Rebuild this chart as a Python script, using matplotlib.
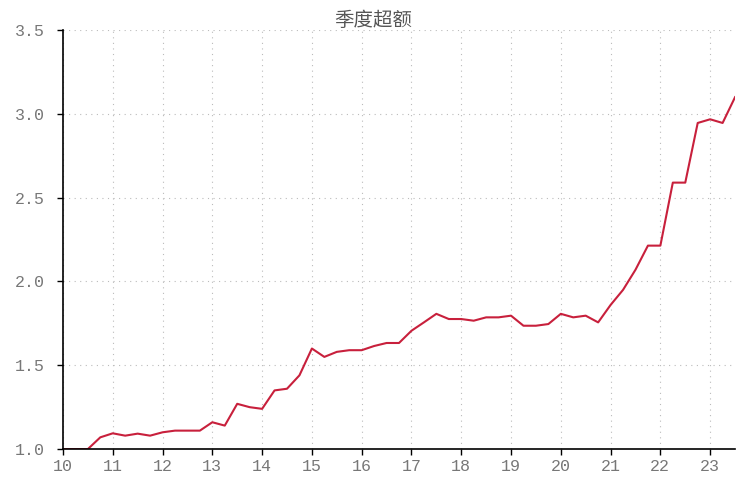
import numpy as np
import matplotlib
matplotlib.use("Agg")
import matplotlib.pyplot as plt

plt.rcParams['font.family'] = ['Noto Sans CJK SC', 'DejaVu Sans']

# quarterly points, x = year (2-digit) + quarter fraction
quarters = np.arange(10.0, 23.51, 0.25)
excess = [
    1.00, 1.00, 1.00, 1.07,
    1.094, 1.08, 1.092, 1.08,
    1.10, 1.11, 1.11, 1.11,
    1.16, 1.14, 1.27, 1.25,
    1.24, 1.35, 1.36, 1.44,
    1.60, 1.55, 1.58, 1.59,
    1.59, 1.615, 1.633, 1.633,
    1.706, 1.756, 1.807, 1.776,
    1.776, 1.766, 1.786, 1.786,
    1.796, 1.736, 1.736, 1.746,
    1.807, 1.786, 1.796, 1.756,
    1.86, 1.95, 2.07, 2.214,
    2.214, 2.59, 2.59, 2.946,
    2.968, 2.946, 3.10,
]
year_ticks = list(range(10, 24))
y_ticks = [1.0, 1.5, 2.0, 2.5, 3.0, 3.5]

fig = plt.figure(figsize=(7.47, 4.86), dpi=100)
ax = fig.add_axes([0.0843, 0.076, 0.8997, 0.862])

ax.plot(quarters, excess, color='#C8203C', linewidth=1.5)

ax.set_xlim(10, 23.5)
ax.set_ylim(1.0, 3.5)
ax.set_xticks(year_ticks)
ax.set_xticklabels([str(y) for y in year_ticks])
ax.set_yticks(y_ticks)
ax.set_yticklabels([f"{v:.1f}" for v in y_ticks])

ax.grid(True, linestyle=(0, (1, 4)), color='#BBBBBB', linewidth=0.8)
ax.set_axisbelow(True)

for s in ['top', 'right']:
    ax.spines[s].set_visible(False)
for s in ['left', 'bottom']:
    ax.spines[s].set_color('black')
    ax.spines[s].set_linewidth(1.2)

ax.tick_params(axis='both', colors='#777777', labelsize=12, length=4, width=1)
ax.tick_params(axis='both', color='black')
ax.tick_params(axis='y', pad=9)
for lbl in ax.get_xticklabels() + ax.get_yticklabels():
    lbl.set_family(['Liberation Mono', 'DejaVu Sans Mono'])

fig.text(0.5, 0.957, '季度超额', color='#555555', fontsize=14,
         ha='center', va='center')

fig.savefig('out.png', dpi=100)
